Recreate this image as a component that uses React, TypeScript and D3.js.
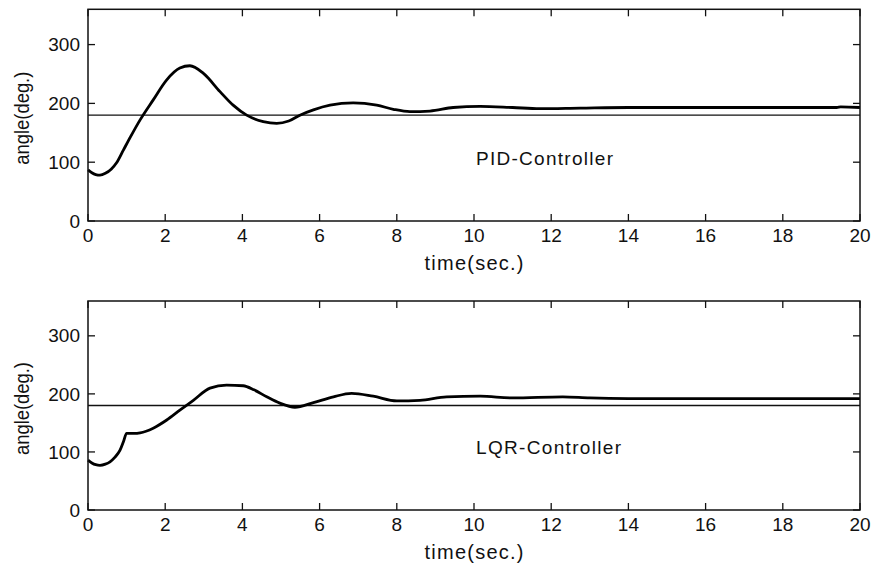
import React from "react";
import * as d3 from "d3";

const pidT = [0, 0.1, 0.2, 0.31, 0.45, 0.6, 0.74, 0.92, 1.1, 1.35, 1.69, 2.04, 2.38, 2.64, 2.99, 3.42, 3.76, 4.11, 4.54, 4.89, 5.2, 5.49, 5.84, 6.27, 6.87, 7.48, 7.91, 8.34, 8.86, 9.46, 10.16, 11.0, 11.7, 12.75, 14, 16, 18, 19.4, 19.5, 20];
const pidV = [87, 82, 79, 78, 81, 88, 99, 121, 143, 172, 206, 240, 260, 264, 251, 220, 197, 180, 169, 166, 170, 180, 189, 197, 201, 197, 190, 186, 187, 193, 195, 193, 191, 192, 193, 193, 193, 193, 194, 193];

const lqrT = [0, 0.1, 0.2, 0.31, 0.45, 0.57, 0.7, 0.83, 0.92, 1.0, 1.2, 1.35, 1.69, 2.04, 2.38, 2.73, 3.16, 3.59, 4.02, 4.3, 4.63, 4.97, 5.36, 5.84, 6.36, 6.83, 7.39, 8.0, 8.6, 9.29, 10.16, 11.0, 12.3, 13.0, 14, 20];
const lqrV = [86, 81, 78, 77, 79, 83, 91, 103, 118, 132, 132, 133, 141, 155, 172, 189, 210, 215, 214, 207, 195, 184, 177, 185, 195, 201, 196, 188, 189, 195, 196, 193, 195, 193, 192, 192];

const xTicks = [0, 2, 4, 6, 8, 10, 12, 14, 16, 18, 20];
const yTicks = [0, 100, 200, 300];
const reference = 180;
const panelLabels = ["PID-Controller", "LQR-Controller"];
const xLabel = "time(sec.)";
const yLabel = "angle(deg.)";

const W = 875;
const H = 568;
const FONT = "'Liberation Sans', Arial, Helvetica, sans-serif";

type PanelProps = { t: number[]; v: number[]; top: number; bottom: number; label: string };

function Panel({ t, v, top, bottom, label }: PanelProps) {
  const x = d3.scaleLinear().domain([0, 20]).range([88, 860]);
  const y = d3.scaleLinear().domain([0, 360]).range([bottom, top]);
  const pts: [number, number][] = t.map((ti, i) => [ti, v[i]]);
  const line = d3
    .line<[number, number]>()
    .x((d) => x(d[0]))
    .y((d) => y(d[1]))
    .curve(d3.curveMonotoneX);
  const tl = 7;
  const [x0, x1] = x.range();
  const midY = (top + bottom) / 2 + 3;
  return (
    <g>
      <line x1={x0} x2={x1} y1={y(reference)} y2={y(reference)} stroke="#111" strokeWidth={1.4} />
      <path d={line(pts) || ""} fill="none" stroke="#000" strokeWidth={2.8} strokeLinejoin="round" />
      <rect x={x0} y={top} width={x1 - x0} height={bottom - top} fill="none" stroke="#111" strokeWidth={1.5} />
      {xTicks.map((tk) => (
        <g key={"x" + tk}>
          <line x1={x(tk)} x2={x(tk)} y1={bottom} y2={bottom - tl} stroke="#111" strokeWidth={1.3} />
          <line x1={x(tk)} x2={x(tk)} y1={top} y2={top + tl} stroke="#111" strokeWidth={1.3} />
          <text x={x(tk)} y={bottom + 21} textAnchor="middle" fontSize={19} fontFamily={FONT} fill="#111">
            {tk}
          </text>
        </g>
      ))}
      {yTicks.map((tk) => (
        <g key={"y" + tk}>
          <line x1={x0} x2={x0 + tl} y1={y(tk)} y2={y(tk)} stroke="#111" strokeWidth={1.3} />
          <line x1={x1} x2={x1 - tl} y1={y(tk)} y2={y(tk)} stroke="#111" strokeWidth={1.3} />
          <text x={80} y={y(tk)} dy="0.35em" textAnchor="end" fontSize={19} fontFamily={FONT} fill="#111">
            {tk}
          </text>
        </g>
      ))}
      <text x={(x0 + x1) / 2} y={bottom + 49} textAnchor="middle" fontSize={20} fontFamily={FONT} fill="#111" textLength={99} lengthAdjust="spacing">
        {xLabel}
      </text>
      <text transform={`translate(29,${midY}) rotate(-90)`} textAnchor="middle" fontSize={20} fontFamily={FONT} fill="#111" textLength={93} lengthAdjust="spacingAndGlyphs">
        {yLabel}
      </text>
      <text x={476} y={y(0) - 56} fontSize={19} fontFamily={FONT} fill="#111" textLength={label.startsWith("LQR") ? 145 : 137} lengthAdjust="spacing">
        {label}
      </text>
    </g>
  );
}

export default function App() {
  return (
    <svg width={W} height={H} style={{ position: "absolute", left: 0, top: 0, background: "#fff" }}>
      <rect width={W} height={H} fill="#fff" />
      <Panel t={pidT} v={pidV} top={9.3} bottom={221} label={panelLabels[0]} />
      <Panel t={lqrT} v={lqrV} top={301} bottom={510} label={panelLabels[1]} />
    </svg>
  );
}
